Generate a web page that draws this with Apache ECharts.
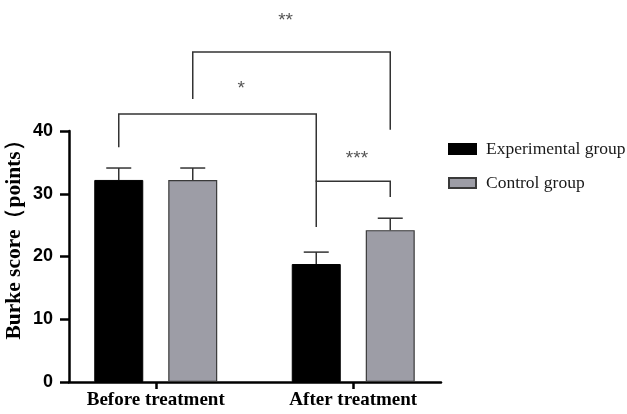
<!DOCTYPE html>
<html><head><meta charset="utf-8">
<script src="https://cdn.jsdelivr.net/npm/echarts@6/dist/echarts.min.js"></script>
<style>html,body{margin:0;padding:0;background:#fff}#c{width:627px;height:414px}</style>
</head><body><div id="c"></div>
<script>
// ---- data ----
const categories = ['Before treatment', 'After treatment'];
const seriesNames = ['Experimental group', 'Control group'];
const expMean = [32.2, 18.8];
const expSD = [1.9, 1.9];
const ctrlMean = [32.2, 24.2];
const ctrlSD = [1.9, 1.9];
const yTicks = [0, 10, 20, 30, 40];
// significance brackets: [leftCat, leftGroup, rightCat, rightGroup, barTop, leftLegBottom, rightLegBottom, starY, label]
const bracketStar1 = [0, 0, 1, 0, 42.7, 37.4, 31.9, 46.7, '*'];
const bracketStar2 = [0, 1, 1, 1, 52.6, 45.1, 40.2, 57.5, '**'];
const bracketStar3 = [1, 0, 1, 1, 32.0, 24.7, 29.5, 35.6, '***'];

// ---- style ----
const BAR_W = 49, BAR_GAP = 25;
const HALF = (BAR_W + BAR_GAP) / 2;
const labelFrac = {'*': 0.62, '**': 0.47, '***': 0.55};

const chart = echarts.init(document.getElementById('c'), null, {renderer: 'canvas'});

function groupX(api, cat, grp) {
  const c = api.coord([cat, 0]);
  return c[0] + (grp === 0 ? -HALF : HALF);
}

const errData = [];
expMean.forEach((v, i) => errData.push([i, v, expSD[i], 0]));
ctrlMean.forEach((v, i) => errData.push([i, v, ctrlSD[i], 1]));

const brackets = [bracketStar1, bracketStar2, bracketStar3];

const option = {
  animation: false,
  grid: [
    {left: 57, right: 175, top: 131, bottom: 32, containLabel: false, outerBoundsMode: 'none'},
    {left: 69, right: 186, top: 131, bottom: 32, containLabel: false, outerBoundsMode: 'none'}
  ],
  legend: {
    orient: 'vertical', left: 443, top: 135, itemGap: 16,
    icon: 'rect', itemWidth: 27, itemHeight: 10,
    textStyle: {fontFamily: 'Liberation Serif', fontSize: 17.5, color: '#1a1a1a', padding: [0, 0, 0, 5]},
    data: seriesNames
  },
  xAxis: [
    {type: 'category', gridIndex: 0, data: categories,
     axisLine: {show: false},
     axisTick: {show: true, alignWithLabel: true, length: 7, lineStyle: {color: '#000', width: 2.5}},
     axisLabel: {margin: 9, color: '#000', fontFamily: 'Liberation Serif', fontWeight: 'bold', fontSize: 19}},
    {type: 'value', gridIndex: 1, min: 0, max: 1,
     axisLine: {show: true, lineStyle: {color: '#000', width: 2.5}},
     axisTick: {show: false}, axisLabel: {show: false}, splitLine: {show: false}}
  ],
  yAxis: [
    {type: 'value', gridIndex: 0, min: 0, max: 40, show: false},
    {type: 'value', gridIndex: 1, min: 0, max: 40, interval: 10,
     name: 'Burke score（points）', nameLocation: 'middle', nameGap: 44, nameMoveOverlap: false,
     nameTextStyle: {fontFamily: 'Liberation Serif', fontWeight: 'bold', fontSize: 21.5, color: '#000', padding: [0, 0, 0, 44]},
     axisLine: {show: true, lineStyle: {color: '#000', width: 2.5}},
     axisTick: {show: true, length: 9, lineStyle: {color: '#000', width: 2.5}},
     axisLabel: {margin: 16, color: '#000', fontFamily: 'Liberation Sans', fontWeight: 'bold', fontSize: 18,
       formatter: v => yTicks.includes(v) ? String(v) : ''},
     splitLine: {show: false}}
  ],
  series: [
    {name: seriesNames[0], type: 'bar', xAxisIndex: 0, yAxisIndex: 0, data: expMean,
     barWidth: BAR_W, barGap: (BAR_GAP / BAR_W * 100).toFixed(1) + '%',
     itemStyle: {color: '#000', borderColor: '#000', borderWidth: 1}},
    {name: seriesNames[1], type: 'bar', xAxisIndex: 0, yAxisIndex: 0, data: ctrlMean,
     barWidth: BAR_W,
     itemStyle: {color: '#9d9da6', borderColor: '#3a3a3a', borderWidth: 1.2}},
    {type: 'custom', xAxisIndex: 0, yAxisIndex: 0, data: errData, clip: false, z: 5,
     renderItem: function (params, api) {
       const cat = api.value(0), m = api.value(1), sd = api.value(2), g = api.value(3);
       const x = groupX(api, cat, g);
       const y0 = api.coord([cat, m])[1];
       const y1 = api.coord([cat, m + sd])[1];
       const st = {stroke: '#333', lineWidth: 1.5};
       return {type: 'group', children: [
         {type: 'line', shape: {x1: x, y1: y0, x2: x, y2: y1}, style: st},
         {type: 'line', shape: {x1: x - 12.5, y1: y1, x2: x + 12.5, y2: y1}, style: st}
       ]};
     }},
    {type: 'custom', xAxisIndex: 0, yAxisIndex: 0, data: brackets.map((b, i) => [b[0], b[4], i]), clip: false, z: 5,
     renderItem: function (params, api) {
       const b = brackets[params.dataIndex];
       const xl = groupX(api, b[0], b[1]);
       const xr = groupX(api, b[2], b[3]);
       const yt = api.coord([0, b[4]])[1];
       const yl = api.coord([0, b[5]])[1];
       const yr = api.coord([0, b[6]])[1];
       const ys = api.coord([0, b[7]])[1];
       const xs = xl + (xr - xl) * labelFrac[b[8]];
       return {type: 'group', children: [
         {type: 'polyline', shape: {points: [[xl, yl], [xl, yt], [xr, yt], [xr, yr]]},
          style: {stroke: '#333', lineWidth: 1.5, fill: null}},
         {type: 'text', x: xs, y: ys,
          style: {text: b[8], fill: '#555', font: '19px "Liberation Sans"', align: 'center', verticalAlign: 'middle'}}
       ]};
     }}
  ]
};
chart.setOption(option);
</script>
</body></html>
